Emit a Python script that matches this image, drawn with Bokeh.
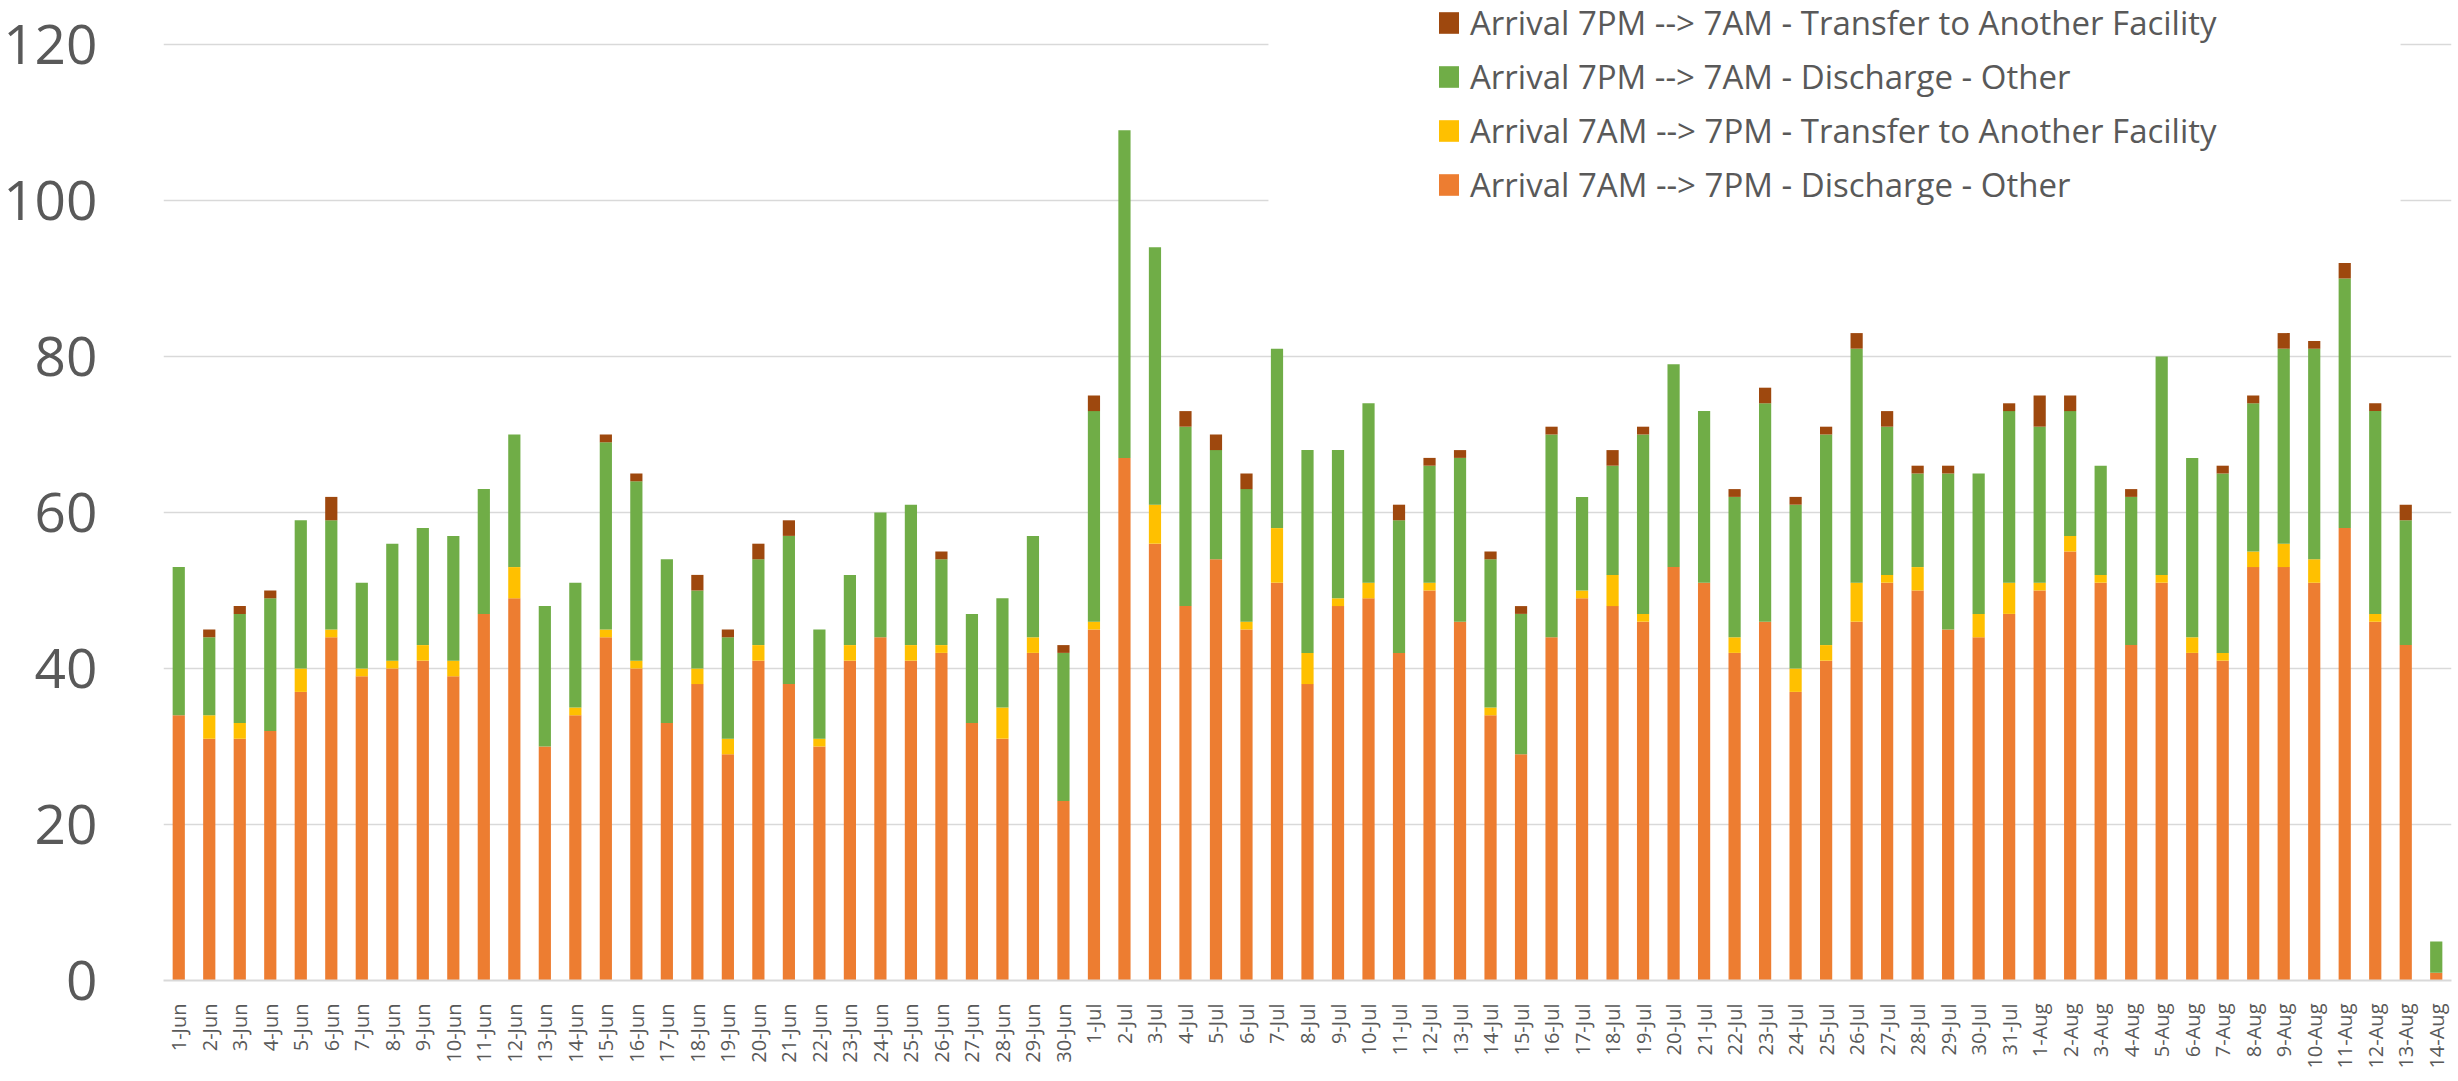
import math
from bokeh.plotting import figure
from bokeh.models import (FactorRange, Range1d, FixedTicker, Legend, LegendItem,
                          BoxAnnotation, ColumnDataSource)
from bokeh.embed import file_html
from bokeh.resources import INLINE

# ---------------- data ----------------
dates = ([f"{d}-Jun" for d in range(1, 31)] +
         [f"{d}-Jul" for d in range(1, 32)] +
         [f"{d}-Aug" for d in range(1, 15)])

# Arrival 7AM --> 7PM - Discharge - Other
am_discharge = [34, 31, 31, 32, 37, 44, 39, 40, 41, 39, 47, 49, 30, 34, 44,
                40, 33, 38, 29, 41, 38, 30, 41, 44, 41, 42, 33, 31, 42, 23,
                45, 67, 56, 48, 54, 45, 51, 38, 48, 49, 42, 50, 46, 34, 29,
                44, 49, 48, 46, 53, 51, 42, 46, 37, 41, 46, 51, 50, 45, 44,
                47, 50, 55, 51, 43, 51, 42, 41, 53, 53, 51, 58, 46, 43, 1]
# Arrival 7AM --> 7PM - Transfer to Another Facility
am_transfer = [0, 3, 2, 0, 3, 1, 1, 1, 2, 2, 0, 4, 0, 1, 1,
               1, 0, 2, 2, 2, 0, 1, 2, 0, 2, 1, 0, 4, 2, 0,
               1, 0, 5, 0, 0, 1, 7, 4, 1, 2, 0, 1, 0, 1, 0,
               0, 1, 4, 1, 0, 0, 2, 0, 3, 2, 5, 1, 3, 0, 3,
               4, 1, 2, 1, 0, 1, 2, 1, 2, 3, 3, 0, 1, 0, 0]
# Arrival 7PM --> 7AM - Discharge - Other
pm_discharge = [19, 10, 14, 17, 19, 14, 11, 15, 15, 16, 16, 17, 18, 16, 24,
                23, 21, 10, 13, 11, 19, 14, 9, 16, 18, 11, 14, 14, 13, 19,
                27, 42, 33, 23, 14, 17, 23, 26, 19, 23, 17, 15, 21, 19, 18,
                26, 12, 14, 23, 26, 22, 18, 28, 21, 27, 30, 19, 12, 20, 18,
                22, 20, 16, 14, 19, 28, 23, 23, 19, 25, 27, 32, 26, 16, 4]
# Arrival 7PM --> 7AM - Transfer to Another Facility
pm_transfer = [0, 1, 1, 1, 0, 3, 0, 0, 0, 0, 0, 0, 0, 0, 1,
               1, 0, 2, 1, 2, 2, 0, 0, 0, 0, 1, 0, 0, 0, 1,
               2, 0, 0, 2, 2, 2, 0, 0, 0, 0, 2, 1, 1, 1, 1,
               1, 0, 2, 1, 0, 0, 1, 2, 1, 1, 2, 2, 1, 1, 0,
               1, 4, 2, 0, 1, 0, 0, 1, 1, 2, 1, 2, 1, 2, 0]

series_keys = ["am_dis", "am_tr", "pm_dis", "pm_tr"]
series_labels = ["Arrival 7AM --> 7PM - Discharge - Other",
                 "Arrival 7AM --> 7PM - Transfer to Another Facility",
                 "Arrival 7PM --> 7AM - Discharge - Other",
                 "Arrival 7PM --> 7AM - Transfer to Another Facility"]
series_colors = ["#ED7D31", "#FFC000", "#70AD47", "#9E480E"]
y_ticks = [0, 20, 40, 60, 80, 100, 120]

source = ColumnDataSource(dict(date=dates, am_dis=am_discharge, am_tr=am_transfer,
                               pm_dis=pm_discharge, pm_tr=pm_transfer))

TEXT = "#595959"
GRID = "#D9D9D9"

p = figure(x_range=FactorRange(factors=dates, range_padding=0),
           y_range=Range1d(0, 125.64),
           frame_width=2288, frame_height=980,
           min_border_left=148, min_border_right=6,
           min_border_top=0, min_border_bottom=85,
           output_backend="svg", toolbar_location=None)
p.outline_line_color = None
p.background_fill_color = "white"

# mask behind legend (hides gridlines like the chart's legend box)
mask = BoxAnnotation(left=36.22, right=73.33, bottom=97, top=130,
                     fill_color="white", fill_alpha=1.0, line_color=None,
                     level="underlay")
p.add_layout(mask)

renderers = p.vbar_stack(series_keys, x="date", width=0.4, color=series_colors,
                         line_width=0, source=source)

items = [LegendItem(label=series_labels[i], renderers=[renderers[i]])
         for i in [3, 2, 1, 0]]
legend = Legend(items=items, location="top_right", margin=0, padding=0,
                glyph_width=25, glyph_height=27, label_standoff=9,
                label_width=981, spacing=9,
                label_text_font="Open Sans", label_text_font_size="33px",
                label_text_color=TEXT,
                background_fill_alpha=0, border_line_color=None)
p.add_layout(legend)

# axes
p.xaxis.major_label_orientation = math.pi / 2
p.xaxis.axis_line_color = GRID
p.xaxis.axis_line_width = 2
p.xaxis.major_tick_line_color = None
p.xaxis.minor_tick_line_color = None
p.xaxis.major_label_text_font = "Open Sans"
p.xaxis.major_label_text_font_size = "20px"
p.xaxis.major_label_text_color = TEXT
p.xaxis.major_label_standoff = 17

p.yaxis.ticker = FixedTicker(ticks=y_ticks)
p.yaxis.axis_line_color = None
p.yaxis.major_tick_line_color = None
p.yaxis.minor_tick_line_color = None
p.yaxis.major_label_text_font = "Open Sans"
p.yaxis.major_label_text_font_size = "55px"
p.yaxis.major_label_text_color = TEXT
p.yaxis.major_label_standoff = 60

p.xgrid.grid_line_color = None
p.ygrid.ticker = FixedTicker(ticks=y_ticks)
p.ygrid.grid_line_color = GRID
p.ygrid.grid_line_width = 1.5

open("out.html", "w").write(file_html(p, INLINE))
